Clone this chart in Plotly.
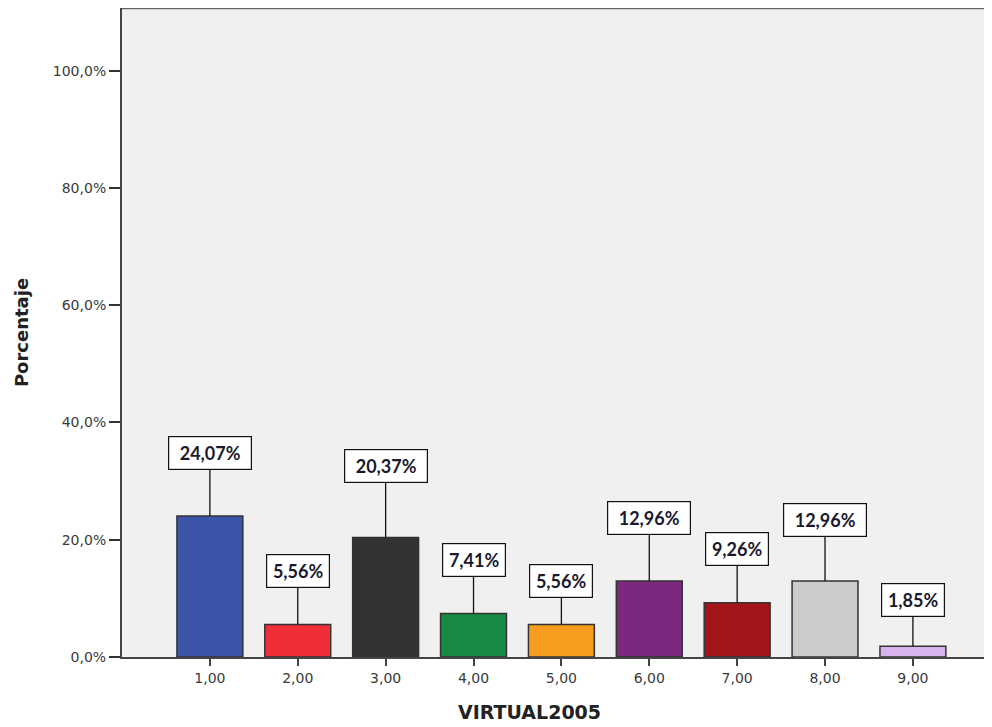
import plotly.graph_objects as go

categories = [1, 2, 3, 4, 5, 6, 7, 8, 9]
category_labels = ["1,00", "2,00", "3,00", "4,00", "5,00", "6,00", "7,00", "8,00", "9,00"]
percentages = [24.07, 5.56, 20.37, 7.41, 5.56, 12.96, 9.26, 12.96, 1.85]
y_ticks = [0, 20, 40, 60, 80, 100]
y_tick_labels = ["0,0%", "20,0%", "40,0%", "60,0%", "80,0%", "100,0%"]

# style
bar_colors = ["#3d55a8", "#ef2f37", "#333333", "#178a45", "#f89c1f",
              "#7b287e", "#a3141b", "#cccccc", "#d8b4ef"]
label_offsets = [63, 53, 72, 54, 43, 63, 54, 61, 46]

fig = go.Figure()
fig.add_trace(go.Bar(
    x=categories, y=percentages, width=0.75,
    marker=dict(color=bar_colors, line=dict(color="#333333", width=1.5)),
    hoverinfo="skip",
))

for x, v, off in zip(categories, percentages, label_offsets):
    txt = f"{v:.2f}".replace(".", ",") + "%"
    fig.add_annotation(
        x=x, y=v, xref="x", yref="y", text=txt,
        showarrow=True, arrowhead=0, arrowwidth=1.3, arrowcolor="#111111",
        ax=0, ay=-off, axref="pixel", ayref="pixel",
        bgcolor="white", bordercolor="#111111", borderwidth=1.2, borderpad=5,
        width=72 if len(txt) > 5 else 52,
        font=dict(family="Lato", size=18, color="#1a1a2e", weight="bold"),
    )

fig.add_annotation(
    x=0.468, y=0, xref="paper", yref="paper", yshift=-55,
    text="VIRTUAL2005", showarrow=False, xanchor="center", yanchor="middle",
    font=dict(size=19, color="#222222", weight="bold"),
)

fig.add_shape(type="line", xref="paper", yref="paper", x0=0, x1=1, y0=1, y1=1,
              line=dict(color="#666666", width=2.5))

fig.update_layout(
    width=984, height=719,
    margin=dict(l=114, r=0, t=0, b=70),
    paper_bgcolor="white", plot_bgcolor="#f0f0f0",
    showlegend=False,
    font=dict(family="DejaVu Sans", color="#333333"),
    xaxis=dict(
        range=[0, 9.9], tickvals=categories, ticktext=category_labels,
        ticks="outside", ticklen=7, tickcolor="#444444", tickwidth=1.5,
        showline=True, linecolor="#444444", linewidth=1.5, showgrid=False,
        zeroline=False, tickfont=dict(size=14, color="#3a3a3a"),
    ),
    yaxis=dict(
        range=[0, 110.7], tickvals=y_ticks, ticktext=y_tick_labels,
        ticks="outside", ticklen=11, tickcolor="#333333", tickwidth=1.5,
        showline=True, linecolor="#444444", linewidth=2, showgrid=False,
        zeroline=False, tickfont=dict(size=14, color="#3a3a3a"),
        title=dict(text="Porcentaje", standoff=20,
                   font=dict(size=18, color="#222222", weight="bold")),
    ),
)

fig.write_html("out.html")
